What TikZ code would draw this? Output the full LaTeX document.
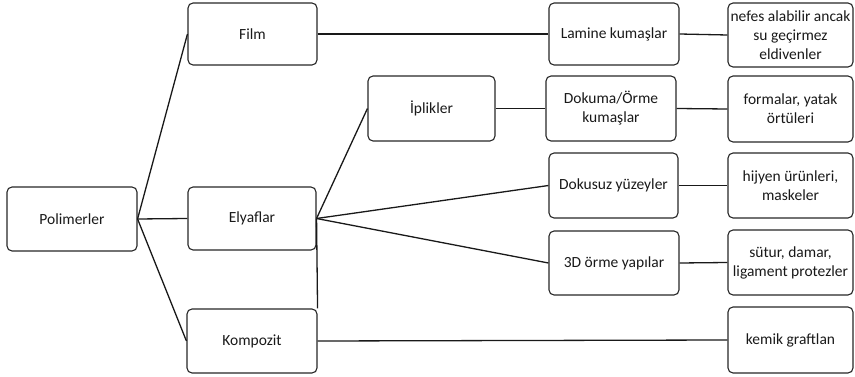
\documentclass[tikz,border=0pt]{standalone}
\usepackage{fontspec}
\setmainfont{Carlito}
\begin{document}
\begin{tikzpicture}[x=1pt,y=-1pt,
  box/.style={draw=black!85, line width=1.1pt, rounded corners=5pt, align=center,
    inner sep=1pt, font=\fontsize{15.5}{19}\selectfont, text=black!90},
  link/.style={draw=black!90, line width=1.3pt}]
\useasboundingbox (0,0) rectangle (855,377);
\node[box, minimum width=130pt, minimum height=64pt] (pol) at (72,219) {Polimerler};
\node[box, minimum width=129pt, minimum height=62pt] (film) at (252.5,34) {Film};
\node[box, minimum width=128pt, minimum height=63pt] (ely) at (252,218.5) {Elyaflar};
\node[box, minimum width=130pt, minimum height=64pt] (komp) at (252,341) {Kompozit};
\node[box, minimum width=127pt, minimum height=65pt] (ipl) at (431.5,108.5) {İplikler};
\node[box, minimum width=130pt, minimum height=62pt] (lam) at (614,34) {Lamine kumaşlar};
\node[box, minimum width=130pt, minimum height=65pt] (dok) at (611,108.5) {Dokuma/Örme\\kumaşlar};
\node[box, minimum width=129pt, minimum height=65pt] (dsz) at (613.5,185.5) {Dokusuz yüzeyler};
\node[box, minimum width=130pt, minimum height=64pt] (trd) at (614,263) {3D örme yapılar};
\node[box, minimum width=125pt, minimum height=64pt] (r1) at (790.5,35) {nefes alabilir ancak\\su geçirmez\\eldivenler};
\node[box, minimum width=125pt, minimum height=66pt] (r2) at (790.5,109) {formalar, yatak\\örtüleri};
\node[box, minimum width=125pt, minimum height=65pt] (r3) at (790.5,185.5) {hijyen ürünleri,\\maskeler};
\node[box, minimum width=125pt, minimum height=65pt] (r4) at (790.5,262.5) {sütur, damar,\\ligament protezler};
\node[box, minimum width=125pt, minimum height=66pt] (r5) at (790.5,340) {kemik graftlan};
\draw[link] (pol.east) -- (film.west);
\draw[link] (pol.east) -- (ely.west);
\draw[link] (pol.east) -- (komp.west);
\draw[link] (ely.east) -- (ipl.west);
\draw[link] (ely.east) -- (dsz.west);
\draw[link] (ely.east) -- (trd.west);
\draw[link] (ely.east) -- (komp.north east);
\draw[link] (film.east) -- (lam.west);
\draw[link] (lam.east) -- (r1.west);
\draw[link] (ipl.east) -- (dok.west);
\draw[link] (dok.east) -- (r2.west);
\draw[link] (dsz.east) -- (r3.west);
\draw[link] (trd.east) -- (r4.west);
\draw[link] (komp.east) -- (r5.west);
\end{tikzpicture}
\end{document}
